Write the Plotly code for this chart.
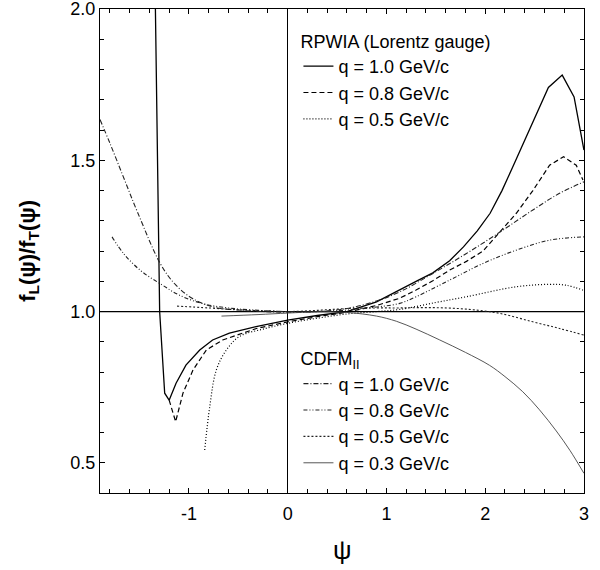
import plotly.graph_objects as go

# ---------------- data ----------------
rpwia_10_psi = [-1.36, -1.339, -1.296, -1.245, -1.20, -1.13, -1.03, -0.89, -0.76, -0.59, -0.32, 0.0, 0.3,
                0.6, 0.9, 1.13, 1.30, 1.47, 1.64, 1.78, 1.92, 2.05, 2.17, 2.28, 2.38, 2.48, 2.56, 2.64,
                2.78, 2.90, 3.0]
rpwia_10_f = [2.3, 2.0, 1.0, 0.73, 0.707, 0.763, 0.823, 0.873, 0.906, 0.929, 0.950, 0.972, 0.987,
              1.0, 1.032, 1.072, 1.10, 1.128, 1.168, 1.214, 1.267, 1.325, 1.40, 1.479, 1.552, 1.622,
              1.685, 1.741, 1.782, 1.71, 1.534]

rpwia_08_psi = [-1.20, -1.134, -1.06, -0.958, -0.823, -0.658, -0.317, 0.0, 0.3, 0.6, 0.9, 1.134,
                1.30, 1.47, 1.64, 1.81, 1.977, 2.146, 2.315, 2.483, 2.652, 2.794, 2.922, 2.99]
rpwia_08_f = [0.707, 0.636, 0.730, 0.807, 0.873, 0.906, 0.944, 0.966, 0.983, 0.998, 1.02, 1.044,
              1.071, 1.102, 1.137, 1.166, 1.200, 1.262, 1.325, 1.40, 1.484, 1.512, 1.484, 1.435]

rpwia_05_psi = [-0.84, -0.789, -0.722, -0.62, -0.486, -0.25, 0.0, 0.3, 0.6, 0.9, 1.134, 1.5, 1.81,
                2.315, 2.652, 2.82, 2.99]
rpwia_05_f = [0.542, 0.685, 0.807, 0.873, 0.918, 0.942, 0.961, 0.978, 0.992, 1.0, 1.007, 1.03, 1.049,
              1.082, 1.090, 1.087, 1.071]

cdfm_10_psi = [-1.9, -1.795, -1.657, -1.518, -1.285, -1.136, -0.963, -0.754, -0.5, -0.25, 0.0, 0.3,
               0.6, 0.9, 1.134, 1.471, 1.81, 2.146, 2.483, 2.753, 3.0]
cdfm_10_f = [1.635, 1.553, 1.44, 1.327, 1.156, 1.089, 1.043, 1.015, 1.005, 1.0, 0.998, 1.0,
             1.01, 1.035, 1.065, 1.126, 1.192, 1.262, 1.336, 1.391, 1.429]

cdfm_08_psi = [-1.778, -1.657, -1.483, -1.275, -1.101, -0.858, -0.6, -0.3, 0.0, 0.3, 0.6, 0.9, 1.134,
               1.30, 1.64, 1.977, 2.315, 2.652, 3.0]
cdfm_08_f = [1.247, 1.19, 1.134, 1.089, 1.055, 1.026, 1.012, 1.004, 1.0, 1.0, 1.005, 1.015, 1.027,
             1.049, 1.104, 1.159, 1.203, 1.236, 1.247]

cdfm_05_psi = [-1.12, -0.8, -0.5, -0.2, 0.0, 0.3, 0.6, 0.9, 1.134, 1.47, 1.81, 2.146, 2.483, 2.753, 3.0]
cdfm_05_f = [1.018, 1.012, 1.006, 1.002, 1.0, 1.004, 1.01, 1.012, 1.012, 1.013, 1.008, 0.994, 0.966,
             0.944, 0.922]

cdfm_03_psi = [-0.67, -0.3, 0.0, 0.3, 0.6, 0.9, 1.1, 1.3, 1.54, 1.8, 2.045, 2.2, 2.38, 2.55, 2.72,
               2.86, 3.0]
cdfm_03_f = [0.985, 0.99, 0.995, 0.999, 0.997, 0.985, 0.968, 0.942, 0.906, 0.865, 0.822, 0.785, 0.735,
             0.675, 0.605, 0.54, 0.465]

x_ticks = [-1, 0, 1, 2, 3]
x_tick_text = ["-1", "0", "1", "2", "3"]
y_ticks = [0.5, 1.0, 1.5, 2.0]
y_tick_text = ["0.5", "1.0", "1.5", "2.0"]
ref_ratio = 1.0

FONT = "Liberation Sans, Arial, sans-serif"

fig = go.Figure()

rpwia = [
    (rpwia_10_psi, rpwia_10_f, "q = 1.0 GeV/c", "solid", 1.3, "black", "linear"),
    (rpwia_08_psi, rpwia_08_f, "q = 0.8 GeV/c", "5px,3px", 1.2, "black", "linear"),
    (rpwia_05_psi, rpwia_05_f, "q = 0.5 GeV/c", "1px,2px", 1.2, "black", "spline"),
]
cdfm = [
    (cdfm_10_psi, cdfm_10_f, "q = 1.0 GeV/c", "5px,2px,1px,2px", 1.1, "#222", "spline"),
    (cdfm_08_psi, cdfm_08_f, "q = 0.8 GeV/c", "4px,2px,1px,2px,1px,2px", 1.1, "#222", "spline"),
    (cdfm_05_psi, cdfm_05_f, "q = 0.5 GeV/c", "2px,2px", 1.1, "#222", "spline"),
    (cdfm_03_psi, cdfm_03_f, "q = 0.3 GeV/c", "solid", 0.9, "#444", "spline"),
]

for xs, ys, name, dash, w, c, shp in rpwia:
    fig.add_trace(go.Scatter(x=xs, y=ys, mode="lines", name=name, legend="legend",
                             line=dict(color=c, width=w, dash=dash, shape=shp, smoothing=1.0)))
for xs, ys, name, dash, w, c, shp in cdfm:
    fig.add_trace(go.Scatter(x=xs, y=ys, mode="lines", name=name, legend="legend2",
                             line=dict(color=c, width=w, dash=dash, shape=shp, smoothing=1.0)))

fig.add_hline(y=ref_ratio, line=dict(color="black", width=1.2), layer="below")

axis_common = dict(
    showline=True, linecolor="black", linewidth=1.2, mirror="allticks",
    ticks="inside", ticklen=5, tickwidth=1, tickcolor="black",
    showgrid=False, tickfont=dict(family=FONT, size=18, color="black"),
    ticklabeloverflow="allow", automargin=False,
)

fig.update_xaxes(
    range=[-1.9, 3.0005], tickvals=x_ticks, ticktext=x_tick_text,
    zeroline=True, zerolinecolor="black", zerolinewidth=1.2, ticklabelstandoff=4,
    minor=dict(dtick=0.2, tick0=0, ticks="inside", ticklen=4, tickcolor="black", showgrid=False),
    **axis_common,
)
fig.update_yaxes(
    range=[0.4, 2.0005], tickvals=y_ticks, ticktext=y_tick_text, zeroline=False,
    minor=dict(dtick=0.1, tick0=0, ticks="inside", ticklen=4, tickcolor="black", showgrid=False),
    **axis_common,
)

legend_common = dict(
    font=dict(family=FONT, size=18, color="black"),
    bgcolor="rgba(0,0,0,0)", borderwidth=0,
    xanchor="left", yanchor="top", tracegroupgap=0, itemwidth=30,
)
fig.update_layout(
    width=600, height=570,
    margin=dict(l=100, r=16, t=9, b=77, autoexpand=False),
    paper_bgcolor="white", plot_bgcolor="white",
    showlegend=True,
    legend=dict(x=0.41, y=0.968,
                title=dict(text="RPWIA (Lorentz gauge)", font=dict(family=FONT, size=18, color="black")),
                **legend_common),
    legend2=dict(x=0.41, y=0.312,
                 title=dict(text="CDFM<sub>II</sub>", font=dict(family=FONT, size=18, color="black")),
                 **legend_common),
    annotations=[
        dict(text="<b>f<sub>L</sub>(ψ)/f<sub>T</sub>(ψ)</b>", xref="paper", yref="paper",
             x=-0.147, y=0.5, textangle=-90, showarrow=False, xanchor="center", yanchor="middle",
             font=dict(family=FONT, size=22, color="black")),
        dict(text="ψ", xref="paper", yref="paper", x=0.5, y=-0.118, showarrow=False,
             xanchor="center", yanchor="middle", font=dict(family=FONT, size=26, color="black")),
    ],
)

fig.write_html("out.html")
